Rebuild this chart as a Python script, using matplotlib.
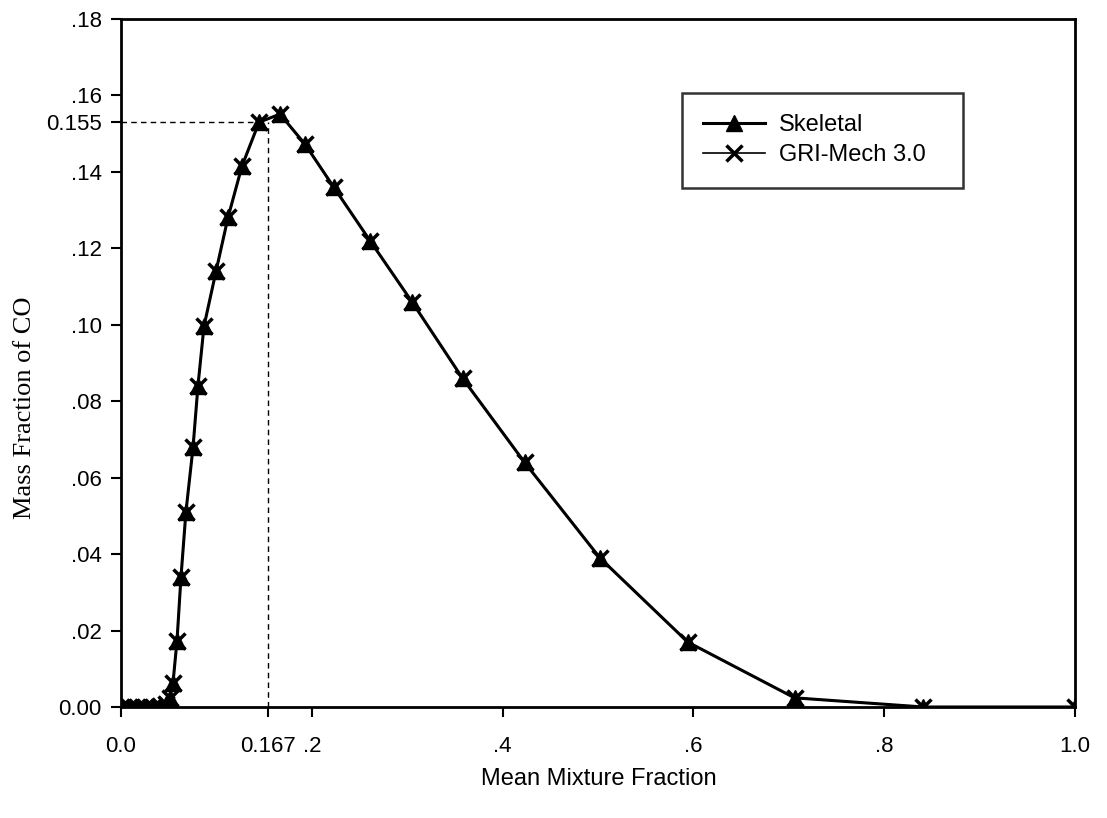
import matplotlib
matplotlib.use("Agg")
import matplotlib.pyplot as plt

# mean mixture fraction and CO mass fraction
z = [0.0, 0.0084, 0.0168, 0.0252, 0.0335, 0.0409, 0.0472, 0.0514, 0.0545,
     0.0587, 0.0629, 0.0681, 0.0755, 0.0807, 0.087, 0.0996, 0.1122, 0.1268,
     0.1447, 0.1667, 0.193, 0.223, 0.261, 0.305, 0.358, 0.423, 0.502, 0.594,
     0.706, 0.841, 1.0]
co_skeletal = [0.0, 0.0, 0.0, 0.0, 0.0, 0.0003, 0.0008, 0.0024, 0.0063,
               0.0173, 0.0341, 0.0511, 0.0679, 0.0841, 0.0996, 0.114, 0.1281,
               0.1415, 0.153, 0.1551, 0.1472, 0.136, 0.122, 0.106, 0.086,
               0.064, 0.039, 0.017, 0.0024, 0.0, 0.0]
co_gri = list(co_skeletal)

# reference lines as drawn in the picture, and their labels
peak_z, peak_co = 0.154, 0.153
peak_z_label, peak_co_label = "0.167", "0.155"

xticks = [0.0, 0.2, 0.4, 0.6, 0.8, 1.0]
xlabels = ["0.0", ".2", ".4", ".6", ".8", "1.0"]
yticks = [0.0, 0.02, 0.04, 0.06, 0.08, 0.10, 0.12, 0.14, 0.16, 0.18]
ylabels = ["0.00", ".02", ".04", ".06", ".08", ".10", ".12", ".14", ".16", ".18"]

fig = plt.figure(figsize=(11.07, 8.18), dpi=100)
ax = fig.add_axes([0.1093, 0.1357, 0.8618, 0.8411])

ax.plot(z, co_skeletal, color="black", lw=2.2, marker="^", ms=11,
        mfc="black", mec="black", label="Skeletal", zorder=3)
ax.plot(z, co_gri, color="black", lw=1.2, marker="x", ms=11, mew=2.5,
        label="GRI-Mech 3.0", zorder=4)

ax.plot([0, z[18]], [peak_co, peak_co], ls=(0, (4, 3)), color="black", lw=1)
ax.plot([peak_z, peak_z], [0, peak_co], ls=(0, (4, 3)), color="black", lw=1)

ax.set_xlim(0, 1.0)
ax.set_ylim(0, 0.18)
ax.set_xticks(xticks + [peak_z])
ax.set_xticklabels(xlabels + [peak_z_label])
ax.set_yticks(yticks + [peak_co])
ax.set_yticklabels(ylabels + [peak_co_label])

for s in ax.spines.values():
    s.set_linewidth(2)
ax.tick_params(direction="out", length=7, width=1.5, labelsize=16,
               colors="black")
ax.tick_params(axis="x", pad=14)
ax.tick_params(axis="y", pad=7)
for lab in ax.get_xticklabels() + ax.get_yticklabels():
    lab.set_family("Liberation Sans")

ax.set_xlabel("Mean Mixture Fraction", family="Liberation Sans", fontsize=17)
ax.xaxis.set_label_coords(0.501, -0.088)
ax.set_ylabel("Mass Fraction of CO", family="Liberation Serif", fontsize=19)
ax.yaxis.set_label_coords(-0.089, 0.435)

leg = ax.legend(loc="upper left", bbox_to_anchor=(0.588, 0.744, 0.2945, 0.1485),
                mode="expand",
                prop={"family": "Liberation Sans", "size": 17},
                frameon=True, fancybox=False, edgecolor="black",
                handlelength=2.6, borderpad=0.9, labelspacing=0.35,
                borderaxespad=0, handletextpad=0.6)
leg.get_frame().set_linewidth(1.8)

fig.savefig("out.png", dpi=100)
